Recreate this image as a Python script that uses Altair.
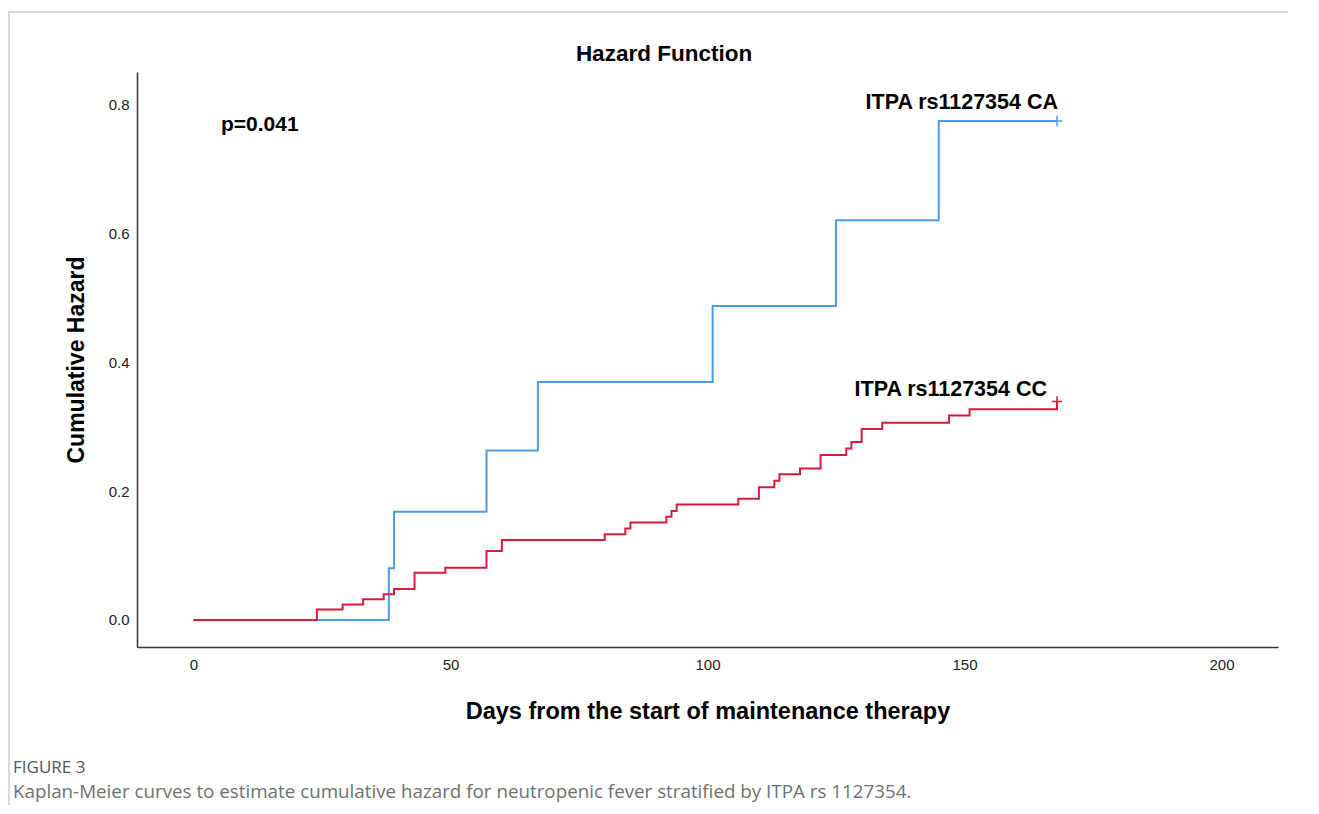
import altair as alt
import pandas as pd

# ---- data ----
groups = ["ITPA rs1127354 CA", "ITPA rs1127354 CC"]
colors = ["#4A9BEA", "#D81A3E"]

ca_days = [0, 38, 39, 57, 67, 101, 125, 145, 168]
ca_haz = [0.0, 0.080, 0.168, 0.263, 0.369, 0.487, 0.620, 0.774, 0.774]

cc_days = [0, 24, 29, 33, 37, 39, 43, 49, 57, 60, 80, 84, 85, 92, 93, 94,
           106, 110, 113, 114, 118, 122, 127, 128, 130, 134, 147, 151, 168]
cc_haz = [0.0, 0.016, 0.024, 0.032, 0.040, 0.048, 0.073, 0.081, 0.107, 0.124,
          0.133, 0.142, 0.151, 0.160, 0.169, 0.179, 0.188, 0.206, 0.216, 0.226,
          0.235, 0.256, 0.266, 0.276, 0.296, 0.306, 0.317, 0.327, 0.339]

censor_days = [168, 168]
censor_haz = [0.774, 0.339]

x_ticks = [0, 50, 100, 150, 200]
y_ticks = [0.0, 0.2, 0.4, 0.6, 0.8]

title_text = "Hazard Function"
p_text = "p=0.041"
x_title = "Days from the start of maintenance therapy"
y_title = "Cumulative Hazard"
fig_label = "FIGURE 3"
caption = ("Kaplan-Meier curves to estimate cumulative hazard for neutropenic "
           "fever stratified by ITPA rs 1127354.")

# ---- tables ----
ca_df = pd.DataFrame({"day": ca_days, "haz": ca_haz, "group": groups[0]})
cc_df = pd.DataFrame({"day": cc_days, "haz": cc_haz, "group": groups[1]})
cen_df = pd.DataFrame({"day": censor_days, "haz": censor_haz, "group": groups})
ca_lab = pd.DataFrame({"day": [ca_days[-1]], "haz": [ca_haz[-1]], "label": [groups[0]]})
cc_lab = pd.DataFrame({"day": [cc_days[-1]], "haz": [cc_haz[-1]], "label": [groups[1]]})

FONT = "Liberation Sans"
W, H = 1141, 575
PAD_R, PAD_B = 10, 158

xs = alt.Scale(domain=[-11, 211], nice=False, zero=False)
ys = alt.Scale(domain=[-0.042, 0.85], nice=False, zero=False)
cs = alt.Scale(domain=groups, range=colors)

x_enc = alt.X("day:Q", scale=xs, axis=alt.Axis(
    values=x_ticks, ticks=False, grid=False, domainColor="#333333", domainWidth=1.5,
    labelFont=FONT, labelFontSize=15, labelColor="#222222", labelPadding=10,
    title=x_title, titleFont=FONT, titleFontSize=23.5, titleFontWeight="bold",
    titleColor="#000000", titlePadding=27))
y_enc = alt.Y("haz:Q", scale=ys, axis=alt.Axis(
    values=y_ticks, format=".1f", ticks=False, grid=False, domainColor="#333333",
    domainWidth=1.5, labelFont=FONT, labelFontSize=15, labelColor="#222222",
    labelPadding=8, title=y_title, titleFont=FONT, titleFontSize=23,
    titleFontWeight="bold", titleColor="#000000", titlePadding=20))
c_enc = alt.Color("group:N", scale=cs, legend=None)

ca_line = alt.Chart(ca_df).mark_line(interpolate="step-after", strokeWidth=2).encode(
    x=x_enc, y=y_enc, color=c_enc)
cc_line = alt.Chart(cc_df).mark_line(interpolate="step-after", strokeWidth=2).encode(
    x="day:Q", y="haz:Q", color=c_enc)

censor = alt.Chart(cen_df).mark_point(
    shape="M-1,0L1,0M0,-1L0,1", filled=False, strokeWidth=1.5, size=110, opacity=1
).encode(x="day:Q", y="haz:Q", color=c_enc)

lab_style = dict(font=FONT, fontSize=21.5, fontWeight="bold", color="#000000",
                 align="right", baseline="middle")
ca_text = alt.Chart(ca_lab).mark_text(dx=1, dy=-18, **lab_style).encode(
    x="day:Q", y="haz:Q", text="label:N")
cc_text = alt.Chart(cc_lab).mark_text(dx=-10, dy=-11, **lab_style).encode(
    x="day:Q", y="haz:Q", text="label:N")

title_mark = alt.Chart(pd.DataFrame({"t": [title_text]})).mark_text(
    font=FONT, fontSize=22.5, fontWeight="bold", color="#000000",
    align="center", baseline="middle").encode(
    x=alt.value(527), y=alt.value(-18), text="t:N")

p_mark = alt.Chart(pd.DataFrame({"t": [p_text]})).mark_text(
    font=FONT, fontSize=21, fontWeight="bold", color="#000000",
    align="left", baseline="middle").encode(
    x=alt.value(84), y=alt.value(53), text="t:N")

fig_mark = alt.Chart(pd.DataFrame({"t": [fig_label]})).mark_text(
    font="Open Sans", fontSize=17, color="#555555", align="left",
    baseline="middle").encode(x=alt.value(-124), y=alt.value(696), text="t:N")

cap_mark = alt.Chart(pd.DataFrame({"t": [caption]})).mark_text(
    font="Open Sans", fontSize=18.8, color="#707070", align="left",
    baseline="middle").encode(x=alt.value(-124), y=alt.value(720), text="t:N")

top_border = alt.Chart(pd.DataFrame({"a": [0]})).mark_rule(
    color="#cccccc", strokeWidth=1.5).encode(
    x=alt.value(-129), x2=alt.value(W + PAD_R), y=alt.value(-60))
left_border = alt.Chart(pd.DataFrame({"a": [0]})).mark_rule(
    color="#cccccc", strokeWidth=1.5).encode(
    x=alt.value(-128), y=alt.value(-60), y2=alt.value(H + PAD_B))

chart = alt.layer(
    top_border, left_border, ca_line, cc_line, censor, ca_text, cc_text,
    title_mark, p_mark, fig_mark, cap_mark
).properties(
    width=W, height=H,
    autosize=alt.AutoSizeParams(type="none"),
    padding={"left": 129, "top": 64, "right": PAD_R, "bottom": PAD_B},
).configure(background="#ffffff").configure_view(stroke=None)

chart.save("out.html", embed_options={"renderer": "svg", "actions": False})
